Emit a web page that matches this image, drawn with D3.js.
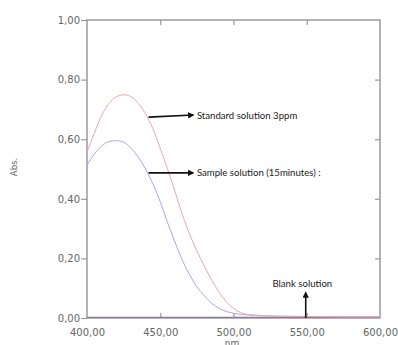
<!DOCTYPE html>
<html>
<head>
<meta charset="utf-8">
<script src="https://cdn.jsdelivr.net/npm/d3@7"></script>
<style>
  body { margin: 0; background: #fff; }
  .tick-label { font-family: 'DejaVu Sans', sans-serif; font-size: 10px; fill: #666; }
  .note { font-family: 'Lato', 'Open Sans', sans-serif; font-size: 9.6px; fill: #1a1a1a; }
</style>
</head>
<body>
<div id="chart"></div>
<script>
// Wavelengths (nm) and absorbance
const wavelengths = [400, 405, 410, 415, 420, 425, 430, 435, 440, 445, 450, 455, 460, 465, 470, 475, 480, 485, 490, 495, 500, 505, 510, 520, 530, 550, 575, 600]
const standard = [0.557, 0.62, 0.68, 0.72, 0.742, 0.749, 0.743, 0.72, 0.685, 0.635, 0.57, 0.50, 0.425, 0.348, 0.282, 0.225, 0.175, 0.128, 0.088, 0.055, 0.032, 0.018, 0.012, 0.008, 0.006, 0.005, 0.004, 0.004]
const sample = [0.513, 0.55, 0.577, 0.592, 0.595, 0.59, 0.57, 0.54, 0.50, 0.45, 0.39, 0.32, 0.255, 0.195, 0.145, 0.105, 0.075, 0.05, 0.033, 0.022, 0.016, 0.012, 0.01, 0.007, 0.006, 0.005, 0.004, 0.004]
const blank = [0.002, 0.002, 0.002, 0.002, 0.002, 0.002, 0.002, 0.002, 0.002, 0.002, 0.002, 0.002, 0.002, 0.002, 0.002, 0.002, 0.002, 0.002, 0.002, 0.002, 0.002, 0.002, 0.002, 0.002, 0.002, 0.002, 0.002, 0.002]

const xTicks = [400, 450, 500, 550, 600]
const yTicks = [0, 0.2, 0.4, 0.6, 0.8, 1.0]

// Annotation arrows in data units
const notes = [
  { label: 'Standard solution 3ppm', from: [442, 0.674], to: [472.5, 0.681], text: [475, 0.667], anchor: 'start' },
  { label: 'Sample solution (15minutes) :', from: [442, 0.487], to: [472.5, 0.487], text: [475, 0.476], anchor: 'start' },
  { label: 'Blank solution', from: [549.3, 0.0], to: [549.3, 0.085], text: [547, 0.105], anchor: 'middle' }
]

const margin = { top: 20, right: 18, bottom: 27, left: 87 }
const width = 398
const height = 345
const innerWidth = width - margin.left - margin.right
const innerHeight = height - margin.top - margin.bottom

const svg = d3.select('#chart')
  .append('svg')
  .attr('width', width)
  .attr('height', height)

svg.append('defs').append('marker')
  .attr('id', 'head')
  .attr('viewBox', '0 0 10 10')
  .attr('refX', 8)
  .attr('refY', 5)
  .attr('markerWidth', 4)
  .attr('markerHeight', 4)
  .attr('orient', 'auto')
  .append('path')
  .attr('d', 'M0,0L10,5L0,10Z')
  .attr('fill', '#111')

const g = svg.append('g')
  .attr('transform', `translate(${margin.left}, ${margin.top})`)

const x = d3.scaleLinear().domain([400, 600]).range([0, innerWidth])
const y = d3.scaleLinear().domain([0, 1]).range([innerHeight, 0])

const fmt = d => d3.format('.2f')(d).replace('.', ',')

// Frame
g.append('rect')
  .attr('width', innerWidth)
  .attr('height', innerHeight)
  .attr('fill', 'none')
  .attr('stroke', '#9a9a9a')
  .attr('stroke-width', 1.5)

const styleAxis = sel => {
  sel.select('.domain').remove()
  sel.selectAll('.tick line').attr('stroke', '#9a9a9a').attr('stroke-width', 1.2)
}

// Left axis (ticks outward)
g.append('g')
  .call(d3.axisLeft(y).tickValues(yTicks).tickSize(6).tickPadding(1).tickFormat(fmt))
  .call(styleAxis)
  .call(a => a.selectAll('text').attr('class', 'tick-label').attr('fill', null))

// Right axis (ticks inward)
g.append('g')
  .attr('transform', `translate(${innerWidth}, 0)`)
  .call(d3.axisRight(y).tickValues(yTicks.slice(1, -1)).tickSize(-5).tickFormat(''))
  .call(styleAxis)

// Bottom axis (ticks inward)
g.append('g')
  .attr('transform', `translate(0, ${innerHeight})`)
  .call(d3.axisBottom(x).tickValues(xTicks).tickSizeInner(-5).tickSizeOuter(0).tickPadding(11).tickFormat(fmt))
  .call(styleAxis)
  .call(a => a.selectAll('text').attr('class', 'tick-label').attr('fill', null))
  .call(a => a.selectAll('.tick line').filter(d => d === 400 || d === 600).remove())

// Top axis (ticks inward)
g.append('g')
  .call(d3.axisTop(x).tickValues(xTicks.slice(1, -1)).tickSize(-5).tickFormat(''))
  .call(styleAxis)

// Axis titles
g.append('text')
  .attr('class', 'tick-label')
  .attr('transform', `translate(${-70}, ${innerHeight / 2 - 2}) rotate(-90)`)
  .attr('text-anchor', 'middle')
  .style('font-size', '8.5px')
  .text('Abs.')

g.append('text')
  .attr('class', 'tick-label')
  .attr('x', x(499))
  .attr('y', innerHeight + 28)
  .attr('text-anchor', 'middle')
  .style('font-size', '9px')
  .text('nm')

// Curves
const line = d3.line()
  .x(d => x(d[0]))
  .y(d => y(d[1]))
  .curve(d3.curveMonotoneX)

const series = [
  { values: blank, color: '#8a7a98', w: 1.2 },
  { values: sample, color: '#a8a8e6', w: 1 },
  { values: standard, color: '#eaa8a8', w: 1 }
]

series.forEach(s => {
  g.append('path')
    .datum(wavelengths.map((w, i) => [w, s.values[i]]))
    .attr('fill', 'none')
    .attr('stroke', s.color)
    .attr('stroke-width', s.w)
    .attr('d', line)
})

// Annotations
notes.forEach(n => {
  g.append('line')
    .attr('x1', x(n.from[0]))
    .attr('y1', y(n.from[1]))
    .attr('x2', x(n.to[0]))
    .attr('y2', y(n.to[1]))
    .attr('stroke', '#111')
    .attr('stroke-width', 1.6)
    .attr('marker-end', 'url(#head)')

  g.append('text')
    .attr('class', 'note')
    .attr('x', x(n.text[0]))
    .attr('y', y(n.text[1]))
    .attr('text-anchor', n.anchor)
    .text(n.label)
})
</script>
</body>
</html>
